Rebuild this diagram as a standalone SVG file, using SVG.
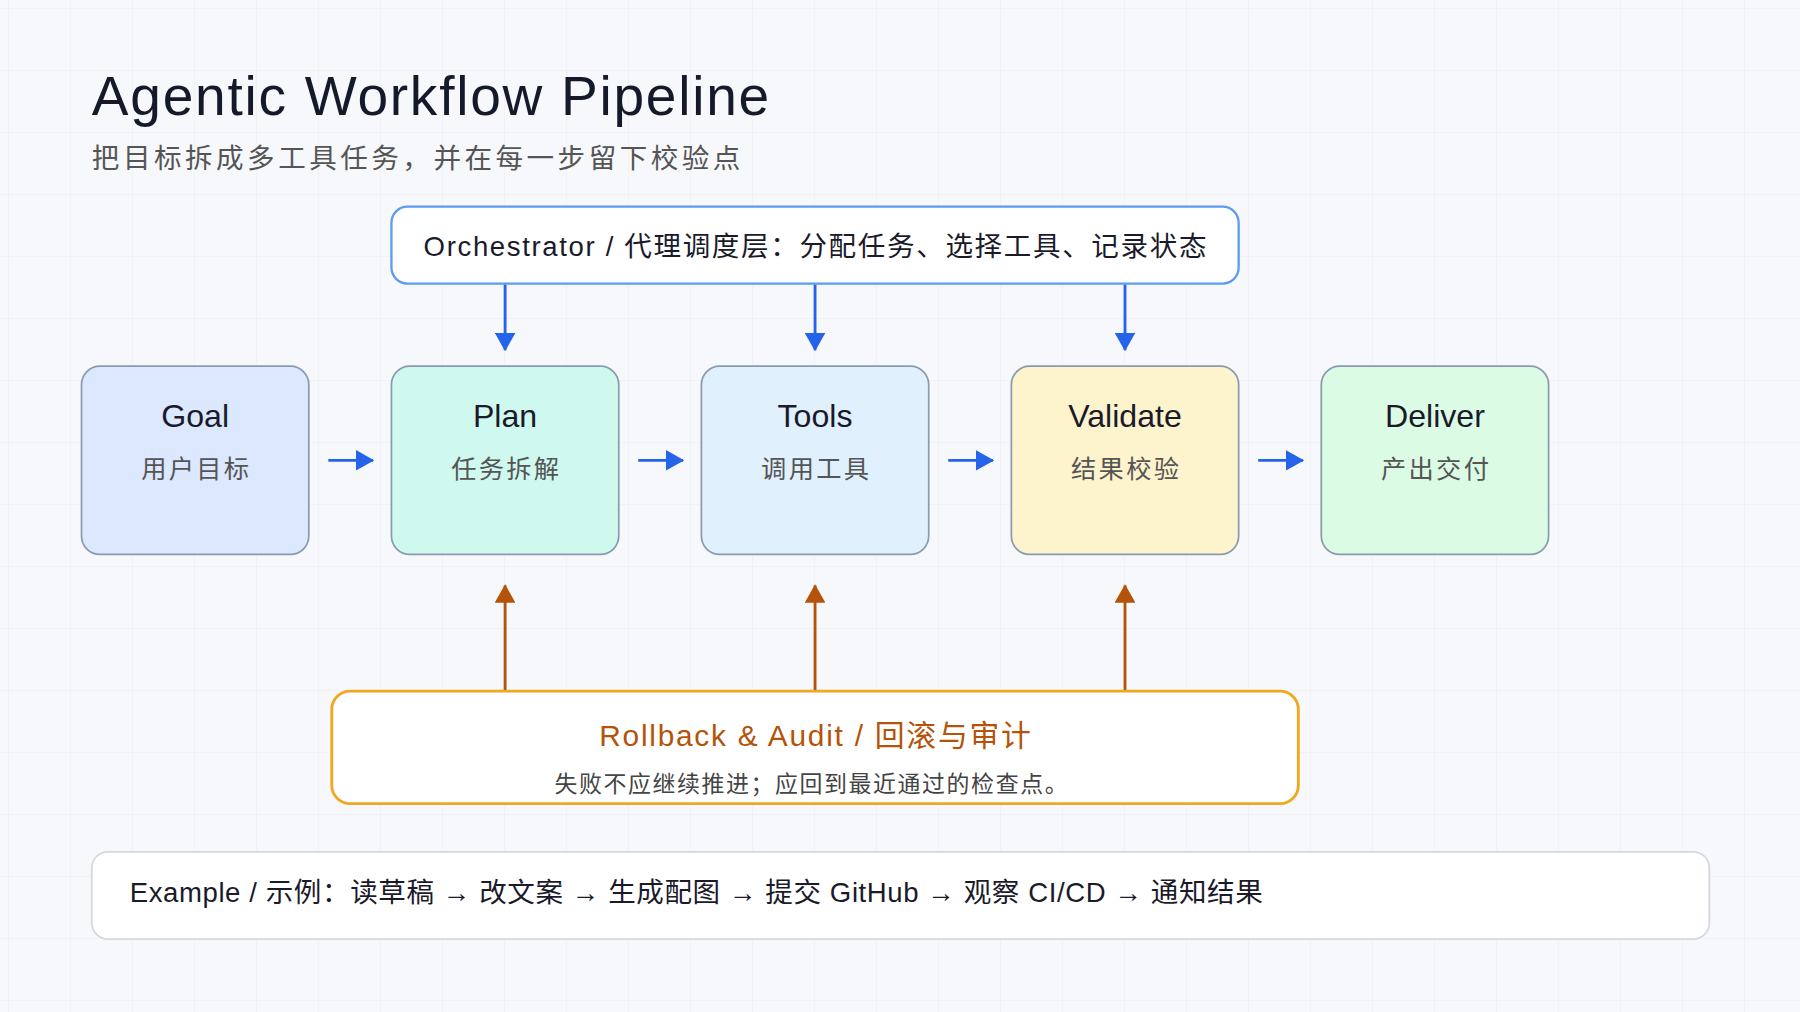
<svg xmlns="http://www.w3.org/2000/svg" width="1800" height="1012" viewBox="0 0 1800 1012">
<defs>
<pattern id="grid" width="62" height="62" patternUnits="userSpaceOnUse" x="8" y="8"><path d="M62 0H0V62" fill="none" stroke="#e9ecf2" stroke-width="1"/></pattern>
<marker id="ab" viewBox="0 0 16 18" refX="15" refY="9" markerWidth="16" markerHeight="18" markerUnits="userSpaceOnUse" orient="auto"><path d="M0 0L16 9L0 18z" fill="#2563eb"/></marker>
<marker id="ao" viewBox="0 0 16 18" refX="15" refY="9" markerWidth="16" markerHeight="18" markerUnits="userSpaceOnUse" orient="auto"><path d="M0 0L16 9L0 18z" fill="#b45309"/></marker>
<style>
text{font-family:"Liberation Sans","Noto Sans CJK SC",sans-serif;text-anchor:middle}
.node{stroke:#8a9bb0;stroke-width:1.5}
.t{font-size:28px;fill:#1a1a2a}
.s{font-size:22px;fill:#555;letter-spacing:2px}
.b{stroke:#2563eb;stroke-width:2.5;fill:none;marker-end:url(#ab)}
.o{stroke:#b45309;stroke-width:2.5;fill:none;marker-end:url(#ao)}
</style>
</defs>
<rect width="1800" height="1012" fill="#f7f8fb"/>
<rect width="1800" height="1012" fill="url(#grid)"/>
<g transform="scale(1.14796)">
<g id="title">
<text x="80" y="100" textLength="590" lengthAdjust="spacing" style="text-anchor:start;font-size:48px;fill:#151a2a">Agentic Workflow Pipeline</text>
<text x="80" y="146" textLength="565" lengthAdjust="spacing" style="text-anchor:start;font-size:24px;fill:#555">把目标拆成多工具任务，并在每一步留下校验点</text>
</g>
<g id="orchestrator">
<rect x="341" y="180" width="738" height="67" rx="14" fill="#fff" stroke="#5b9cf0" stroke-width="2"/>
<text x="369" y="223" textLength="682" lengthAdjust="spacing" style="text-anchor:start;font-size:24px;fill:#1a1a2a">Orchestrator / 代理调度层：分配任务、选择工具、记录状态</text>
</g>
<g id="goal"><rect class="node" x="71" y="319" width="198" height="164" rx="16" fill="#dbe8fd"/><text class="t" x="170" y="372">Goal</text><text class="s" x="171" y="416">用户目标</text></g>
<g id="plan"><rect class="node" x="341" y="319" width="198" height="164" rx="16" fill="#cff8ee"/><text class="t" x="440" y="372">Plan</text><text class="s" x="441" y="416">任务拆解</text></g>
<g id="tools"><rect class="node" x="611" y="319" width="198" height="164" rx="16" fill="#e0f0fd"/><text class="t" x="710" y="372">Tools</text><text class="s" x="711" y="416">调用工具</text></g>
<g id="validate"><rect class="node" x="881" y="319" width="198" height="164" rx="16" fill="#fdf3cc"/><text class="t" x="980" y="372">Validate</text><text class="s" x="981" y="416">结果校验</text></g>
<g id="deliver"><rect class="node" x="1151" y="319" width="198" height="164" rx="16" fill="#dcfbe5"/><text class="t" x="1250" y="372">Deliver</text><text class="s" x="1251" y="416">产出交付</text></g>
<g id="rollback">
<rect x="289" y="602" width="842" height="98" rx="16" fill="#fff" stroke="#f0a820" stroke-width="2.5"/>
<text x="522" y="650" textLength="376" lengthAdjust="spacing" style="text-anchor:start;font-size:26px;fill:#b45309">Rollback &amp; Audit / 回滚与审计</text>
<text x="483" y="690" textLength="447" lengthAdjust="spacing" style="text-anchor:start;font-size:20px;fill:#444">失败不应继续推进；应回到最近通过的检查点。</text>
</g>
<g id="example">
<rect x="80" y="742" width="1409" height="76" rx="14" fill="#fff" stroke="#d3d8e0" stroke-width="1.5"/>
<text x="113" y="786" textLength="987" lengthAdjust="spacing" style="text-anchor:start;font-size:24px;fill:#1a1a2a">Example / 示例：读草稿 → 改文案 → 生成配图 → 提交 GitHub → 观察 CI/CD → 通知结果</text>
</g>
<g id="connectors">
<path class="b" d="M440 248V305"/><path class="b" d="M710 248V305"/><path class="b" d="M980 248V305"/>
<path class="b" d="M286 401H325"/><path class="b" d="M556 401H595"/><path class="b" d="M826 401H865"/><path class="b" d="M1096 401H1135"/>
<path class="o" d="M440 601V510"/><path class="o" d="M710 601V510"/><path class="o" d="M980 601V510"/>
</g>
</g>
</svg>
